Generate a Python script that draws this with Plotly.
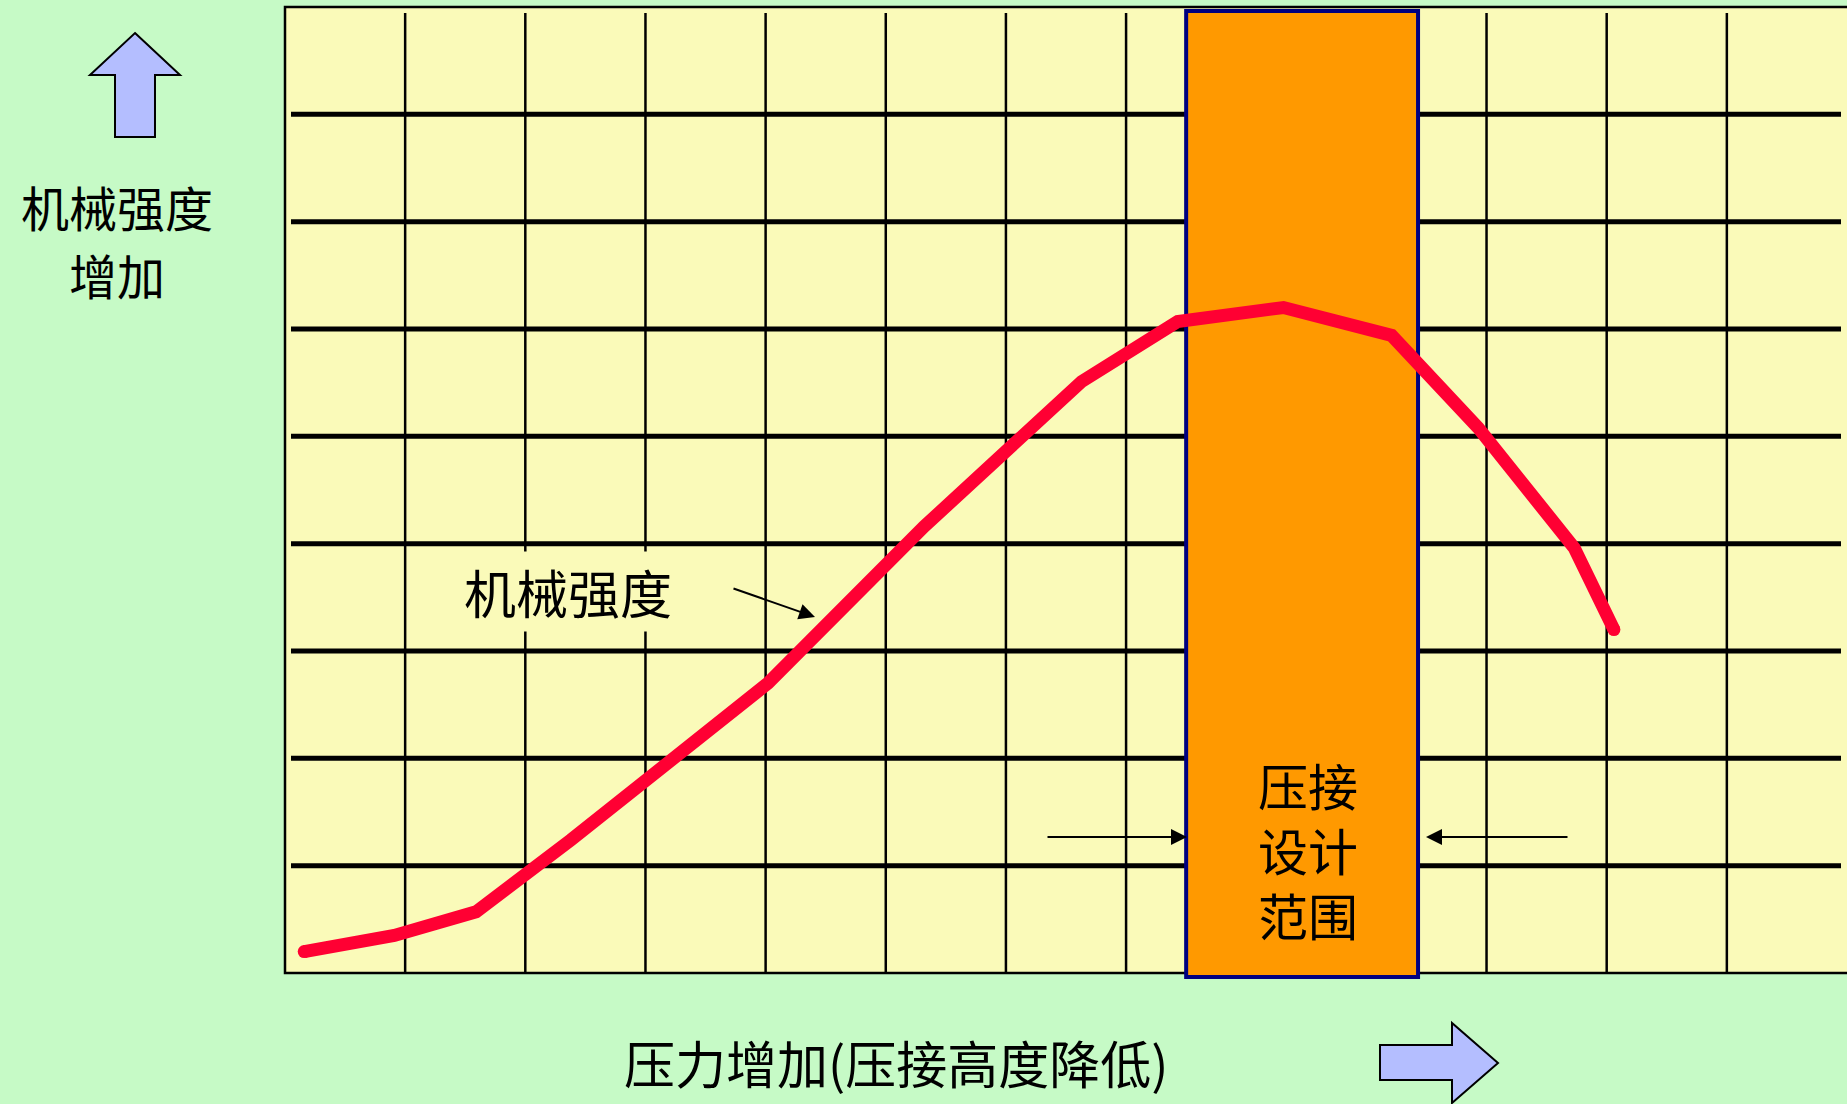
import plotly.graph_objects as go

# ---------------- data ----------------
strength_x = [0.16, 0.91, 1.59, 2.38, 4.02, 5.32, 6.63, 7.43, 8.31, 9.21, 9.93, 10.73, 11.06]
strength_y = [0.20, 0.35, 0.57, 1.24, 2.70, 4.16, 5.51, 6.07, 6.20, 5.94, 5.08, 3.96, 3.20]
x_grid = list(range(1, 13))
y_grid = list(range(1, 9))
design_range = [7.5, 9.43]

curve_label = "机械强度"
y_label = ["机械强度", "增加"]
x_label = "压力增加(压接高度降低)"
band_label = ["压接", "设计", "范围"]

# ---------------- geometry ----------------
W, H = 1847, 1104
L, R, T, B = 285, 0, 7, 131
PW, PH = W - L - R, H - T - B
XMAX, YMAX = 13, 9

def pxx(px):
    return (px - L) / PW

def pxy(py):
    return (H - B - py) / PH

FONT = "Noto Sans CJK SC"
RED = "#FF0033"

fig = go.Figure()
fig.add_trace(go.Scatter(x=strength_x, y=strength_y, mode="lines",
                         line=dict(color=RED, width=13), hoverinfo="skip",
                         showlegend=False))
fig.add_trace(go.Scatter(x=[strength_x[0], strength_x[-1]],
                         y=[strength_y[0], strength_y[-1]], mode="markers",
                         marker=dict(color=RED, size=13), hoverinfo="skip",
                         showlegend=False))

shapes = []
# plot border
shapes.append(dict(type="rect", xref="paper", yref="paper", x0=0, x1=1.01, y0=0, y1=1,
                   line=dict(color="black", width=2.5), fillcolor="rgba(0,0,0,0)", layer="below"))
# vertical grid lines
for gx in x_grid:
    shapes.append(dict(type="line", xref="paper", yref="paper", x0=gx / XMAX, x1=gx / XMAX,
                       y0=0, y1=pxy(13), line=dict(color="black", width=2.5), layer="below"))
# horizontal grid lines
for gy in y_grid:
    shapes.append(dict(type="line", xref="paper", yref="paper", x0=pxx(291), x1=pxx(1841),
                       y0=gy / YMAX, y1=gy / YMAX, line=dict(color="black", width=5), layer="below"))
# design band
shapes.append(dict(type="rect", xref="paper", yref="paper",
                   x0=design_range[0] / XMAX, x1=design_range[1] / XMAX,
                   y0=pxy(977), y1=pxy(11), fillcolor="#FF9900",
                   line=dict(color="#000080", width=4), layer="below"))

def poly(pts):
    d = "M " + " L ".join(f"{pxx(x):.5f},{pxy(y):.5f}" for x, y in pts) + " Z"
    return d

up_arrow = [(135, 33), (180, 75), (155, 75), (155, 137), (115, 137), (115, 75), (90, 75)]
right_arrow = [(1380, 1045), (1452, 1045), (1452, 1023), (1498, 1063), (1452, 1103),
               (1452, 1080), (1380, 1080)]
for pts in (up_arrow, right_arrow):
    shapes.append(dict(type="path", xref="paper", yref="paper", path=poly(pts),
                       fillcolor="#B4BEFF", line=dict(color="black", width=2), layer="above"))

ann = []
for txt, cy in zip(y_label, (206, 274)):
    ann.append(dict(text=txt, xref="paper", yref="paper", x=pxx(117), y=pxy(cy),
                    showarrow=False, font=dict(family=FONT, size=48, color="black"),
                    xanchor="center", yanchor="middle", borderpad=0))
ann.append(dict(text=x_label, xref="paper", yref="paper", x=pxx(896), y=pxy(1062),
                showarrow=False, font=dict(family=FONT, size=51, color="black"),
                xanchor="center", yanchor="middle", borderpad=0))
ann.append(dict(text="<br>".join(band_label), xref="paper", yref="paper", x=pxx(1308), y=pxy(849),
                showarrow=False, font=dict(family=FONT, size=50, color="black"),
                xanchor="center", yanchor="middle"))
ann.append(dict(text=curve_label, xref="paper", yref="paper", x=pxx(568), y=pxy(591),
                showarrow=False, font=dict(family=FONT, size=52, color="black"),
                bgcolor="#FAFAB9", borderpad=2, xanchor="center", yanchor="middle"))

def arrow(tail, tip):
    return dict(text="", xref="x domain", yref="y domain", axref="x domain", ayref="y domain",
                x=pxx(tip[0]), y=pxy(tip[1]), ax=pxx(tail[0]), ay=pxy(tail[1]),
                showarrow=True, arrowhead=2, arrowsize=1.6, arrowwidth=2,
                arrowcolor="black", standoff=0, startstandoff=0)

ann.append(arrow((732, 588), (815, 617)))
ann.append(arrow((1046, 837), (1187, 837)))
ann.append(arrow((1569, 837), (1426, 837)))

fig.update_layout(
    width=W, height=H, autosize=False,
    margin=dict(l=L, r=R, t=T, b=B, pad=0),
    paper_bgcolor="#C6FAC6", plot_bgcolor="#FAFAB9",
    xaxis=dict(range=[0, XMAX], visible=False, fixedrange=True),
    yaxis=dict(range=[0, YMAX], visible=False, fixedrange=True),
    shapes=shapes, annotations=ann, showlegend=False,
)

fig.write_html("out.html", config={"displayModeBar": False},
               post_script="document.body.style.margin='0';document.body.style.overflow='hidden';")
